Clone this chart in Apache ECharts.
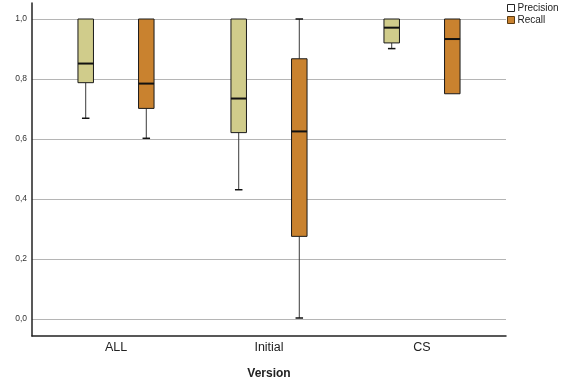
<!DOCTYPE html>
<html>
<head>
<meta charset="utf-8">
<script src="https://cdn.jsdelivr.net/npm/echarts@6/dist/echarts.min.js"></script>
<style>
  html, body { margin: 0; padding: 0; background: #fff; }
  #chart { width: 569px; height: 385px; }
</style>
</head>
<body>
<div id="chart"></div>
<script>
// categories on the x axis
const categories = ['ALL', 'Initial', 'CS']
// [min, q1, median, q3, max] per category
const precisionStats = [
    [0.668, 0.787, 0.851, 1.0, 1.0],
    [0.429, 0.620, 0.734, 1.0, 1.0],
    [0.901, 0.920, 0.971, 1.0, 1.0]
]
const recallStats = [
    [0.601, 0.701, 0.784, 1.0, 1.0],
    [0.000, 0.273, 0.624, 0.867, 1.0],
    [0.750, 0.750, 0.933, 1.0, 1.0]
]
const yMin = 0
const yMax = 1
const yStep = 0.2

const precisionColor = '#d0cc8b'
const recallColor = '#c9822f'

// box renderer, offset is a fraction of the category band
const boxRenderer = (offsetFrac, fill) => (params, api) => {
    const cat = api.value(0)
    const band = api.size([1, 0])[0]
    const cx = api.coord([cat, 0])[0] + band * offsetFrac
    const w = 15.5
    const capW = 7.5
    const y = (v) => api.coord([cat, v])[1]
    const mn = api.value(1), q1 = api.value(2), md = api.value(3), q3 = api.value(4), mx = api.value(5)
    const children = []
    const whisker = { stroke: '#3a3a3a', lineWidth: 1 }
    const cap = { stroke: '#111', lineWidth: 1.5 }
    if (mx > q3) {
        children.push({ type: 'line', shape: { x1: cx, y1: y(q3), x2: cx, y2: y(mx) }, style: whisker })
        children.push({ type: 'line', shape: { x1: cx - capW / 2, y1: y(mx), x2: cx + capW / 2, y2: y(mx) }, style: cap })
    }
    if (mn < q1) {
        children.push({ type: 'line', shape: { x1: cx, y1: y(q1), x2: cx, y2: y(mn) }, style: whisker })
        children.push({ type: 'line', shape: { x1: cx - capW / 2, y1: y(mn), x2: cx + capW / 2, y2: y(mn) }, style: cap })
    }
    children.push({
        type: 'rect',
        shape: { x: cx - w / 2, y: y(q3), width: w, height: y(q1) - y(q3) },
        style: { fill: fill, stroke: '#1a1a1a', lineWidth: 1 }
    })
    children.push({
        type: 'line',
        shape: { x1: cx - w / 2, y1: y(md), x2: cx + w / 2, y2: y(md) },
        style: { stroke: '#111', lineWidth: 2 }
    })
    return { type: 'group', children }
}

const chart = echarts.init(document.getElementById('chart'), null, { renderer: 'canvas' })

const option = {
    animation: false,
    backgroundColor: '#fff',
    textStyle: { fontFamily: 'Liberation Sans, Arial, sans-serif' },
    legend: {
        orient: 'vertical',
        left: 507,
        top: 3,
        itemWidth: 7,
        itemHeight: 7,
        itemGap: 2,
        padding: 0,
        icon: 'rect',
        textStyle: { fontSize: 10, color: '#222', padding: [0, 0, 0, -2] },
        data: [
            { name: 'Precision', itemStyle: { color: '#fff', borderColor: '#222', borderWidth: 1 } },
            { name: 'Recall', itemStyle: { color: recallColor, borderColor: '#5a3a10', borderWidth: 1 } }
        ]
    },
    grid: [
        // grid lines + y labels
        { left: 32, width: 474, top: 19, height: 300 },
        // frame (axis lines)
        { left: 32, width: 474, top: 3, height: 333 },
        // boxes
        { left: 39.5, width: 459, top: 19, height: 300 }
    ],
    xAxis: [
        { gridIndex: 0, type: 'category', data: categories, show: false },
        {
            gridIndex: 1, type: 'category', data: categories,
            axisLine: { lineStyle: { color: '#222', width: 1.5 } },
            axisTick: { show: false }, axisLabel: { show: false }
        },
        {
            gridIndex: 2, type: 'category', data: categories,
            axisLine: { show: false }, axisTick: { show: false },
            axisLabel: { margin: 23, fontSize: 12.5, color: '#222' },
            name: 'Version', nameLocation: 'middle', nameGap: 50,
            nameTextStyle: { fontSize: 12, fontWeight: 'bold', color: '#222' }
        }
    ],
    yAxis: [
        {
            gridIndex: 0, type: 'value', min: yMin, max: yMax, interval: yStep,
            axisLine: { show: false }, axisTick: { show: false },
            axisLabel: {
                margin: 5, fontSize: 8.5, color: '#333',
                formatter: (v) => v.toFixed(1).replace('.', ',')
            },
            splitLine: { lineStyle: { color: '#b5b5b5', width: 1 } }
        },
        {
            gridIndex: 1, type: 'value', min: 0, max: 1,
            axisLine: { show: true, lineStyle: { color: '#222', width: 1.5 } },
            axisTick: { show: false }, axisLabel: { show: false }, splitLine: { show: false }
        },
        {
            gridIndex: 2, type: 'value', min: yMin, max: yMax, show: false
        }
    ],
    series: [
        {
            name: 'Precision',
            type: 'custom',
            xAxisIndex: 2, yAxisIndex: 2,
            itemStyle: { color: precisionColor },
            renderItem: boxRenderer(-0.198, precisionColor),
            encode: { x: 0, y: [1, 2, 3, 4, 5] },
            data: precisionStats.map((s, i) => [i, ...s])
        },
        {
            name: 'Recall',
            type: 'custom',
            xAxisIndex: 2, yAxisIndex: 2,
            itemStyle: { color: recallColor },
            renderItem: boxRenderer(0.198, recallColor),
            encode: { x: 0, y: [1, 2, 3, 4, 5] },
            data: recallStats.map((s, i) => [i, ...s])
        }
    ]
}

chart.setOption(option)
window.addEventListener('resize', () => chart.resize())
</script>
</body>
</html>
